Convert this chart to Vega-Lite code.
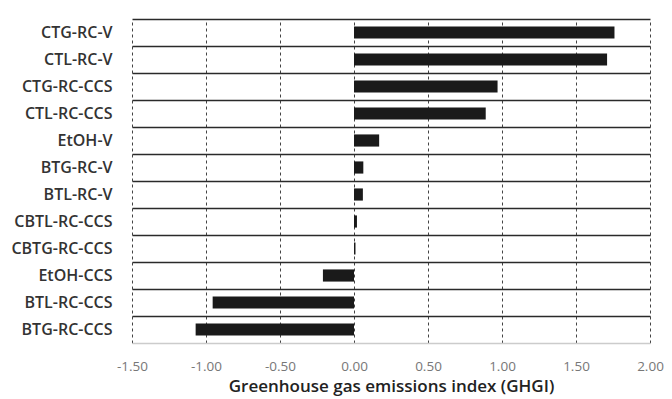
{
  "$schema": "https://vega.github.io/schema/vega-lite/v6.json",
  "width": 518,
  "height": 324,
  "autosize": "none",
  "padding": {"left": 132, "top": 19, "right": 22, "bottom": 56},
  "background": "white",
  "data": {
    "values": [
      {"pathway": "CTG-RC-V", "ghgi": 1.76},
      {"pathway": "CTL-RC-V", "ghgi": 1.71},
      {"pathway": "CTG-RC-CCS", "ghgi": 0.97},
      {"pathway": "CTL-RC-CCS", "ghgi": 0.89},
      {"pathway": "EtOH-V", "ghgi": 0.17},
      {"pathway": "BTG-RC-V", "ghgi": 0.063},
      {"pathway": "BTL-RC-V", "ghgi": 0.06},
      {"pathway": "CBTL-RC-CCS", "ghgi": 0.02},
      {"pathway": "CBTG-RC-CCS", "ghgi": 0.01},
      {"pathway": "EtOH-CCS", "ghgi": -0.21},
      {"pathway": "BTL-RC-CCS", "ghgi": -0.955},
      {"pathway": "BTG-RC-CCS", "ghgi": -1.07}
    ]
  },
  "mark": {"type": "bar", "color": "#1a1a1a", "height": {"band": 0.45}},
  "encoding": {
    "y": {
      "field": "pathway",
      "type": "nominal",
      "sort": null,
      "scale": {"paddingInner": 0, "paddingOuter": 0},
      "axis": {
        "title": null,
        "grid": true,
        "tickBand": "extent",
        "gridColor": {"condition": {"test": "datum.index === 1", "value": "#cccccc"}, "value": "#2a2a2a"},
        "gridWidth": 1.5,
        "gridOpacity": 1,
        "ticks": false,
        "domain": false,
        "labelFont": "Open Sans",
        "labelFontWeight": 600,
        "labelFontSize": 16,
        "labelColor": "#333333",
        "labelPadding": 20
      }
    },
    "x": {
      "field": "ghgi",
      "type": "quantitative",
      "scale": {"domain": [-1.5, 2.0], "nice": false, "zero": false},
      "axis": {
        "title": "Greenhouse gas emissions index (GHGI)",
        "values": [-1.5, -1.0, -0.5, 0, 0.5, 1.0, 1.5, 2.0],
        "format": ".2f",
        "labelExpr": "replace(datum.label, '−', '-')",
        "grid": true,
        "gridDash": [3, 3],
        "gridColor": "#444444",
        "gridWidth": 1,
        "ticks": false,
        "domain": true,
        "domainColor": "#cccccc",
        "labelFont": "Open Sans",
        "labelFontSize": 13.5,
        "labelColor": "#777777",
        "labelPadding": 16,
        "labelFlush": false,
        "titleFont": "Open Sans",
        "titleFontWeight": 600,
        "titleFontSize": 17,
        "titleColor": "#222222",
        "titlePadding": 6
      }
    }
  },
  "config": {"view": {"stroke": null}}
}
